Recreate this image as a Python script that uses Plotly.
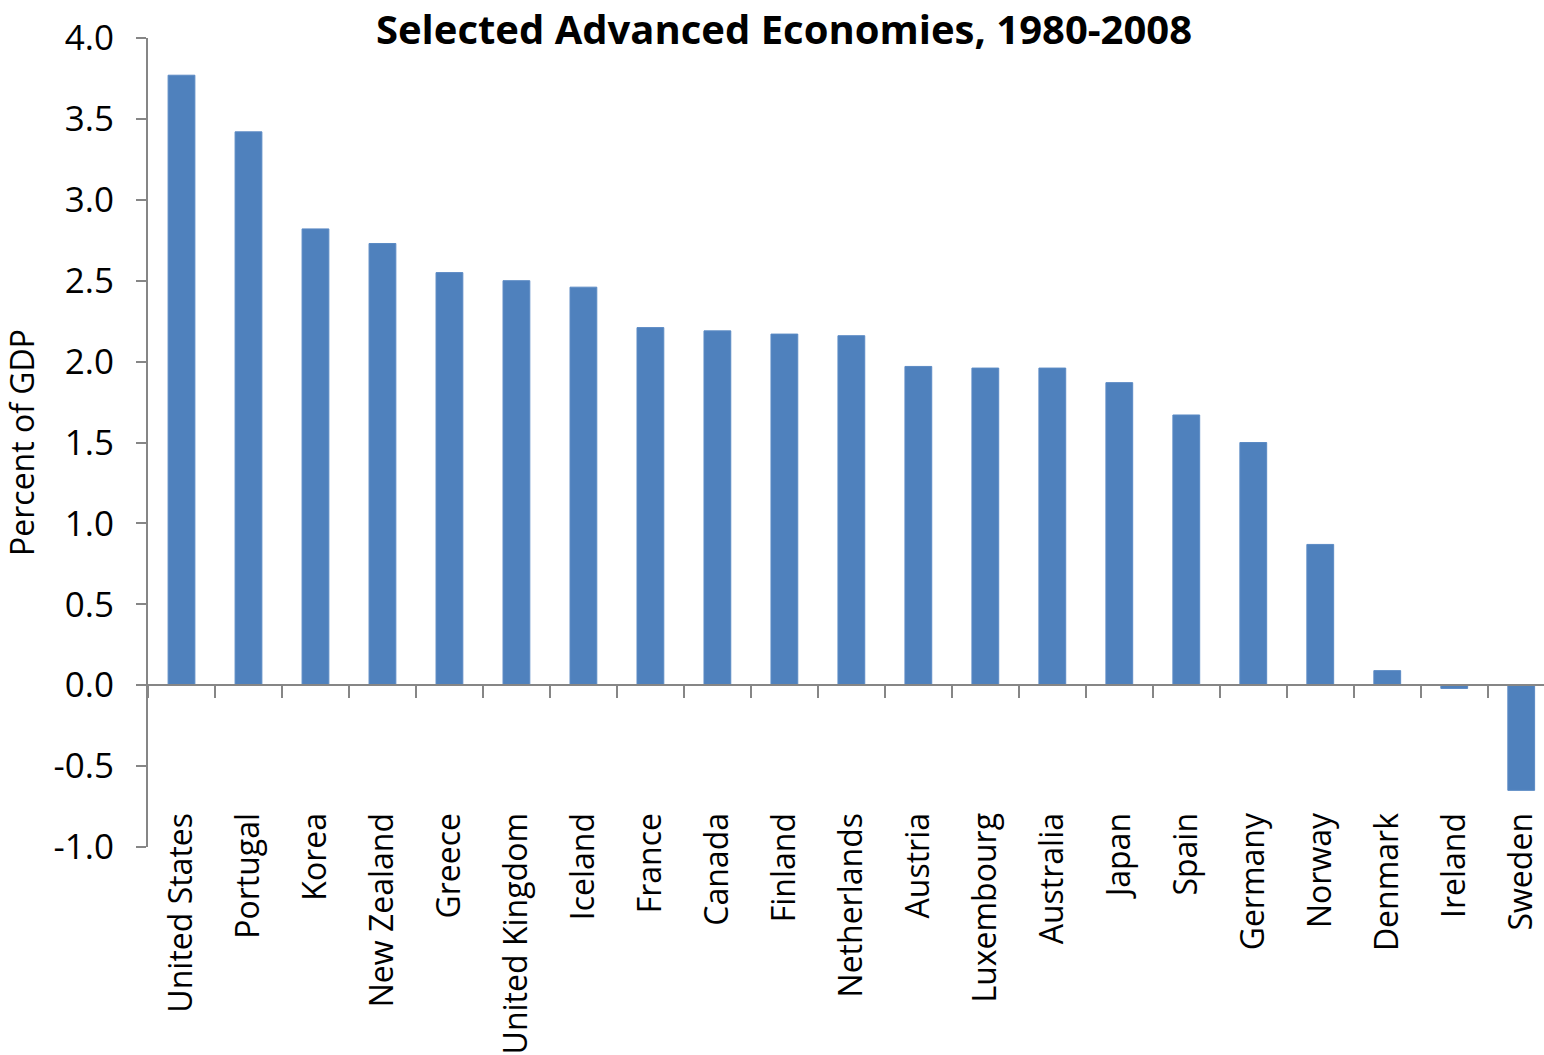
import plotly.graph_objects as go

countries = ["United States", "Portugal", "Korea", "New Zealand", "Greece", "United Kingdom",
             "Iceland", "France", "Canada", "Finland", "Netherlands", "Austria", "Luxembourg",
             "Australia", "Japan", "Spain", "Germany", "Norway", "Denmark", "Ireland", "Sweden"]
values = [3.77, 3.42, 2.82, 2.73, 2.55, 2.50, 2.46, 2.21, 2.19, 2.17, 2.16, 1.97, 1.96,
          1.96, 1.87, 1.67, 1.50, 0.87, 0.09, -0.02, -0.65]
y_ticks = [-1.0, -0.5, 0.0, 0.5, 1.0, 1.5, 2.0, 2.5, 3.0, 3.5, 4.0]
y_tick_labels = ["-1.0", "-0.5", "0.0", "0.5", "1.0", "1.5", "2.0", "2.5", "3.0", "3.5", "4.0"]

FONT = "Open Sans"
W, H = 1544, 1055
ml, mt, mb = 148, 38, 208
ymin, ymax = -1.0, 4.0
zero_pos = (0 - ymin) / (ymax - ymin)

fig = go.Figure(go.Bar(
    x=countries, y=values, width=0.4,
    marker=dict(color="#4F81BD", line=dict(color="#5B8AC4", width=1)),
))

fig.update_layout(
    width=W, height=H,
    margin=dict(l=ml, r=0, t=mt, b=mb),
    plot_bgcolor="white", paper_bgcolor="white",
    showlegend=False,
    font=dict(family=FONT, color="black"),
    title=dict(text="<b>Selected Advanced Economies, 1980-2008</b>",
               x=784 / W, xanchor="center", y=1 - 30 / H, yanchor="middle",
               font=dict(size=40, family=FONT, color="black")),
    xaxis=dict(
        type="category", range=[-0.5, 20.34],
        anchor="free", position=zero_pos,
        showline=True, linecolor="#868686", linewidth=2,
        ticks="outside", ticklen=12, tickcolor="#868686", tickwidth=2,
        tickson="boundaries", tickangle=-90,
        tickfont=dict(size=32, family=FONT, color="black"),
        ticklabelstandoff=114,
        showgrid=False, zeroline=False,
    ),
    yaxis=dict(
        range=[ymin, ymax], tickvals=y_ticks, ticktext=y_tick_labels,
        showline=True, linecolor="#868686", linewidth=2,
        ticks="outside", ticklen=10, tickcolor="#868686", tickwidth=2,
        tickfont=dict(size=35, family=FONT, color="black"),
        ticklabelstandoff=15,
        showgrid=False, zeroline=False,
        title=dict(text="Percent of GDP", font=dict(size=32, family=FONT, color="black"),
                   standoff=14),
    ),
)

fig.write_html("out.html")
